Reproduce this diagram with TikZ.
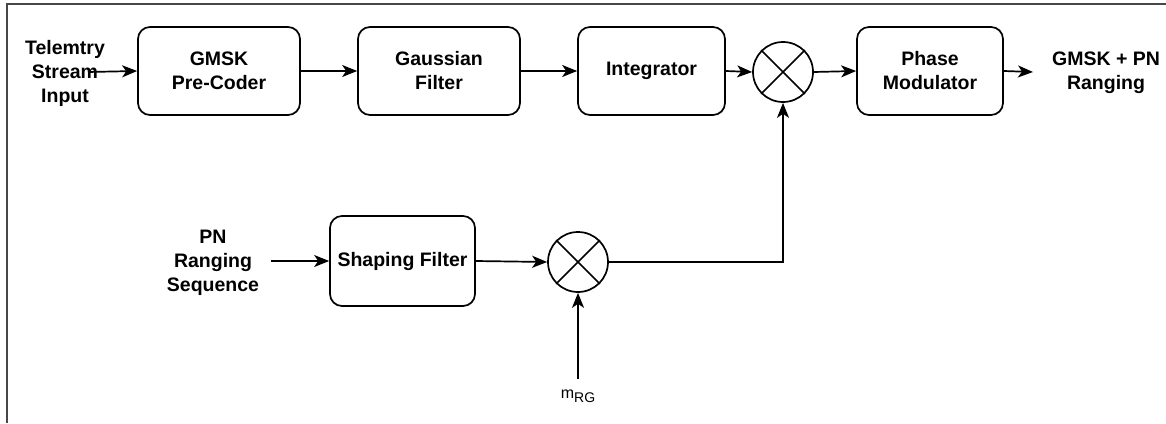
\documentclass[tikz,border=0pt]{standalone}
\usepackage{fontspec}
\setmainfont{Liberation Sans}
\usetikzlibrary{arrows.meta}
\begin{document}
\begin{tikzpicture}[x=1pt,y=-1pt,
  blk/.style={draw, line width=1.7pt, rounded corners=12pt, align=center, inner sep=0pt,
    font=\bfseries\fontsize{19.5}{24}\selectfont},
  lbl/.style={align=center, font=\bfseries\fontsize{19.5}{24}\selectfont},
  mix/.style={draw, circle, line width=1.7pt, minimum size=60pt, inner sep=0pt},
  arr/.style={line width=1.7pt, -{Stealth[length=15pt,width=12pt,inset=4pt]}},
  frame/.style={line width=2.5pt, draw=black!72}]
\useasboundingbox (0,0) rectangle (1166,423);
\draw[frame] (7,423) -- (7,4) -- (1166,4);
% top row
\node[lbl] (tin) at (65,73) {Telemtry\\Stream\\Input};
\coordinate (tinend) at (88,72);
\node[blk, minimum width=162pt, minimum height=88pt] (pre) at (219,71) {GMSK\\Pre-Coder};
\node[blk, minimum width=162pt, minimum height=88pt] (gauss) at (439,71) {Gaussian\\Filter};
\node[blk, minimum width=147pt, minimum height=88pt] (integ) at (651.5,71) {Integrator};
\node[mix] (mix1) at (783,72) {};
\node[blk, minimum width=146pt, minimum height=88pt] (phase) at (930,71) {Phase\\Modulator};
\node[lbl] (out) at (1106,73) {GMSK + PN\\Ranging};
\coordinate (outstart) at (1033,72);
% bottom row
\node[lbl] (pn) at (213,263) {PN\\Ranging\\Sequence};
\node[blk, minimum width=145pt, minimum height=90pt] (shape) at (402.5,261) {Shaping Filter};
\node[mix] (mix2) at (578,262) {};
\node[font=\fontsize{16}{18}\selectfont] (mrg) at (578,396) {m\raisebox{-4pt}{\fontsize{14}{14}\selectfont RG}};
\coordinate (mrgtop) at (578,379);
% crosses
\foreach \m in {mix1,mix2}{
  \draw[line width=1.7pt] (\m.north east) -- (\m.south west);
  \draw[line width=1.7pt] (\m.north west) -- (\m.south east);
}
% connectors
\draw[arr] (tinend) -- (pre.west);
\draw[arr] (pre.east) -- (gauss.west);
\draw[arr] (gauss.east) -- (integ.west);
\draw[arr] (integ.east) -- (mix1.west);
\draw[arr] (mix1.east) -- (phase.west);
\draw[arr] (phase.east) -- (outstart);
\draw[arr] (pn.east |- shape.west) ++(8pt,0) coordinate (pnend) -- (shape.west);
\draw[arr] (shape.east) -- (mix2.west);
\draw[arr] (mix2.east) -| (mix1.south);
\draw[arr] (mrgtop) -- (mix2.south);
\end{tikzpicture}
\end{document}
